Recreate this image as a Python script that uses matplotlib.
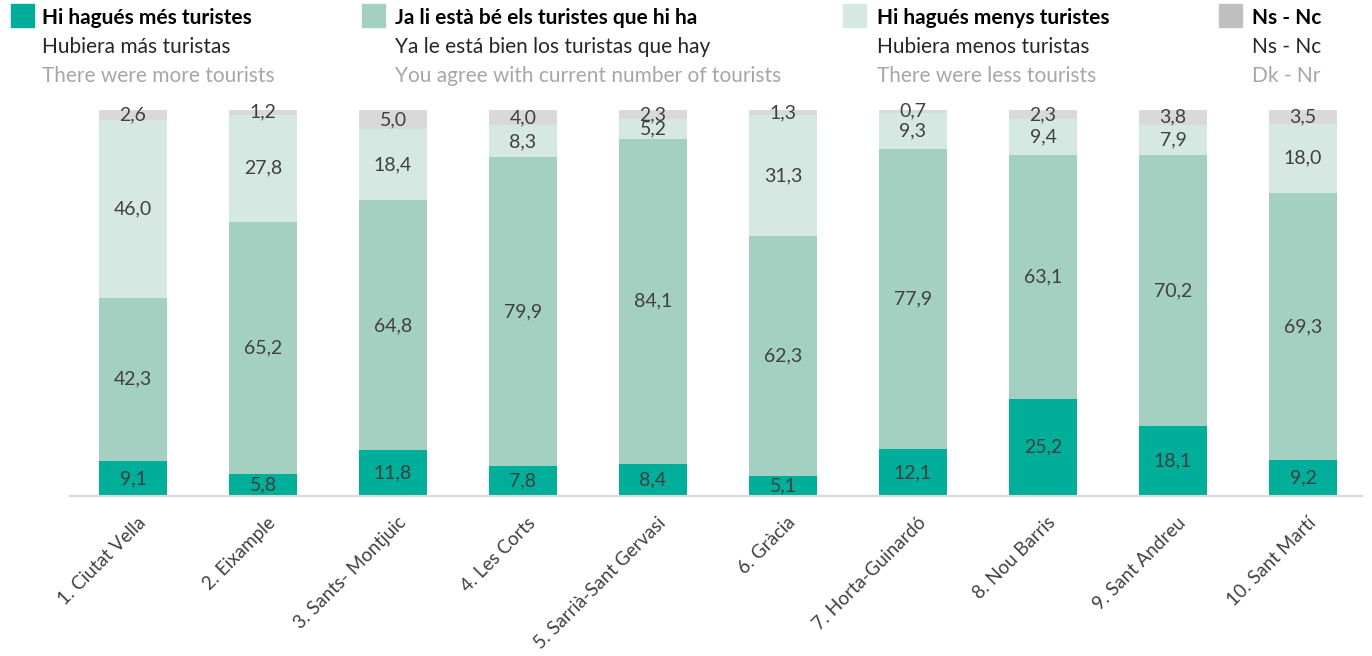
import matplotlib.pyplot as plt
import matplotlib.transforms as mtransforms
from matplotlib.patches import Rectangle
import numpy as np

plt.rcParams['font.family'] = ['Lato', 'DejaVu Sans']

districts = ["1. Ciutat Vella", "2. Eixample", "3. Sants- Montjuic", "4. Les Corts",
             "5. Sarrià-Sant Gervasi", "6. Gràcia", "7. Horta-Guinardó", "8. Nou Barris",
             "9. Sant Andreu", "10. Sant Martí"]
more = [9.1, 5.8, 11.8, 7.8, 8.4, 5.1, 12.1, 25.2, 18.1, 9.2]
same = [42.3, 65.2, 64.8, 79.9, 84.1, 62.3, 77.9, 63.1, 70.2, 69.3]
less = [46.0, 27.8, 18.4, 8.3, 5.2, 31.3, 9.3, 9.4, 7.9, 18.0]
nsnc = [2.6, 1.2, 5.0, 4.0, 2.3, 1.3, 0.7, 2.3, 3.8, 3.5]

legend_titles = ["Hi hagués més turistes", "Ja li està bé els turistes que hi ha",
                 "Hi hagués menys turistes", "Ns - Nc"]
legend_es = ["Hubiera más turistas", "Ya le está bien los turistas que hay",
             "Hubiera menos turistas", "Ns - Nc"]
legend_en = ["There were more tourists", "You agree with current number of tourists",
             "There were less tourists", "Dk - Nr"]

colors = ["#00AE9A", "#A3D0C1", "#D5E8E1", "#D9D9D9"]
legend_colors = ["#00AE9A", "#A3D0C1", "#D5E8E1", "#BFBFBF"]

W, H = 1372, 656
fig = plt.figure(figsize=(W / 100, H / 100), dpi=100)
ax = fig.add_axes([70 / W, (H - 496) / H, (1362 - 70) / W, 386 / H])

x = np.arange(len(districts))
bottom = np.zeros(len(districts))
for series, c in zip([more, same, less, nsnc], colors):
    vals = np.array(series)
    ax.bar(x, vals, bottom=bottom, width=0.52, color=c, edgecolor='none')
    for xi, b, v in zip(x, bottom, vals):
        ax.text(xi, b + v / 2, f"{v:.1f}".replace('.', ','), ha='center', va='center',
                fontsize=14, color='#404040')
    bottom += vals

ax.set_xlim(-63 / 130, 9 + 59 / 130)
ax.set_ylim(0, 100)
for s in ['top', 'right', 'left']:
    ax.spines[s].set_visible(False)
ax.spines['bottom'].set_color('#D9D9D9')
ax.spines['bottom'].set_linewidth(1.5)
ax.set_yticks([])
ax.set_xticks(x)
ax.set_xticklabels(districts, rotation=45, ha='right', va='top', rotation_mode='anchor',
                   fontsize=13.5, color='#404040')
ax.tick_params(axis='x', length=0, pad=13)
shift = mtransforms.ScaledTranslation(4 / 100, 0, fig.dpi_scale_trans)
for lab in ax.get_xticklabels():
    lab.set_transform(lab.get_transform() + shift)

# legend drawn by hand in three lines per entry
squares = [11, 362, 843, 1219]
text_x = [42, 395, 877, 1252]
for i in range(4):
    fig.patches.append(Rectangle((squares[i] / W, 1 - 27 / H), 23 / W, 23 / H,
                                 transform=fig.transFigure, color=legend_colors[i]))
    tx = text_x[i] / W
    fig.text(tx, 1 - 18 / H, legend_titles[i], fontsize=15, fontweight='bold',
             color='black', va='center')
    fig.text(tx, 1 - 47 / H, legend_es[i], fontsize=15, color='#262626', va='center')
    fig.text(tx, 1 - 76 / H, legend_en[i], fontsize=15, color='#A6A6A6', va='center')

fig.savefig("out.png", dpi=100)
